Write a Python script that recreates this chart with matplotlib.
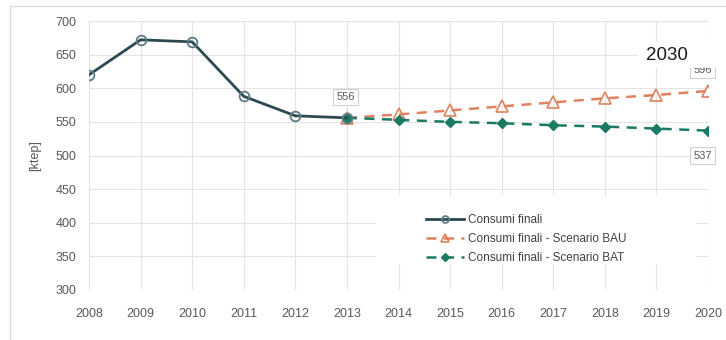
import matplotlib
matplotlib.use('Agg')
from matplotlib import pyplot as plt
from matplotlib.patches import Rectangle

plt.rcParams['font.family'] = ['Liberation Sans', 'DejaVu Sans']

# data
years_hist = [2008, 2009, 2010, 2011, 2012, 2013]
consumi = [620, 672, 669, 588, 559, 556]

years_scen = [2013, 2014, 2015, 2016, 2017, 2018, 2019, 2020]
bau = [556, 561, 567, 573, 579, 585, 590, 596]
bat = [556, 553, 550, 548, 545, 543, 540, 537]

labels = ['Consumi finali', 'Consumi finali - Scenario BAU', 'Consumi finali - Scenario BAT']
x_ticks = list(range(2008, 2021))
y_ticks = list(range(300, 701, 50))

col_hist = '#2d4a52'
col_bau = '#e0825f'
col_bat = '#1a7a63'
txt_col = '#595959'

fig = plt.figure(figsize=(7.26, 3.4), dpi=100)
ax = fig.add_axes([89 / 726, 1 - 290 / 340, 619 / 726, 269 / 340])

# light outer frame of the chart object
fig.patches.append(Rectangle((10 / 726, -0.05), 1.0, 1 - 6 / 340 + 0.05, transform=fig.transFigure,
                             fc='none', ec='#dcdcdc', lw=1.0))

ax.plot(years_hist, consumi, '-', color=col_hist, lw=2, marker='o', ms=7,
        mfc='none', mec='#5d7e86', mew=1.3, label=labels[0], zorder=4)
ax.plot(years_scen, bau, '--', color=col_bau, lw=1.8, dashes=(4, 3), marker='^', ms=9,
        mfc='none', mec=col_bau, mew=1.2, label=labels[1], zorder=3)
ax.plot(years_scen, bat, '--', color=col_bat, lw=1.8, dashes=(4, 3), marker='D', ms=5.5,
        mfc=col_bat, mec=col_bat, label=labels[2], zorder=3)

ax.set_xlim(2008, 2020)
ax.set_ylim(300, 700)
ax.set_xticks(x_ticks)
ax.set_yticks(y_ticks)
ax.tick_params(length=0, labelsize=9, colors=txt_col)
ax.tick_params(axis='x', pad=13)
ax.tick_params(axis='y', pad=9)
ax.grid(True, color='#e4e4e4', lw=0.8)
ax.set_axisbelow(True)
for s in ax.spines.values():
    s.set_visible(False)
ax.set_ylabel('[ktep]', color=txt_col, fontsize=9, labelpad=10)

box = dict(boxstyle='square,pad=0.3', fc='white', ec='#cfcfcf', lw=0.8)
ax.annotate(str(consumi[-1]), (years_hist[-1], consumi[-1]), xytext=(-1, 15),
            textcoords='offset points', ha='center', va='center', fontsize=8,
            color=txt_col, bbox=box)
ax.annotate(str(bat[-1]), (years_scen[-1], bat[-1]), xytext=(-4, -18),
            textcoords='offset points', ha='center', va='center', fontsize=8,
            color=txt_col, bbox=box, annotation_clip=False)
ax.annotate(str(bau[-1]), (years_scen[-1], bau[-1]), xytext=(-4, 15),
            textcoords='offset points', ha='center', va='center', fontsize=8,
            color=txt_col, bbox=box, annotation_clip=False)

# "2030" pasted on a white strip that hides the top of the 596 label
cover = Rectangle((638 / 726, 1 - 68 / 340), 88 / 726, 26 / 340, transform=fig.transFigure,
                  fc='white', ec='none', zorder=4)
fig.patches.append(cover)
fig.text(667 / 726, 1 - 55 / 340, '2030', ha='center', va='center', fontsize=13.5,
         color='#1a1a1a', zorder=5)

# white area behind the legend
ax.add_patch(Rectangle((0.464, 0.095), 0.517, 0.26, transform=ax.transAxes,
                       fc='white', ec='none', zorder=1.5))
leg = ax.legend(loc='upper left', bbox_to_anchor=(0.528, 0.323), frameon=False,
                fontsize=8.5, handlelength=3.2, handletextpad=0.3, labelspacing=0.6,
                markerscale=0.7)
for t in leg.get_texts():
    t.set_color('#404040')

fig.savefig('out.png', dpi=100)
